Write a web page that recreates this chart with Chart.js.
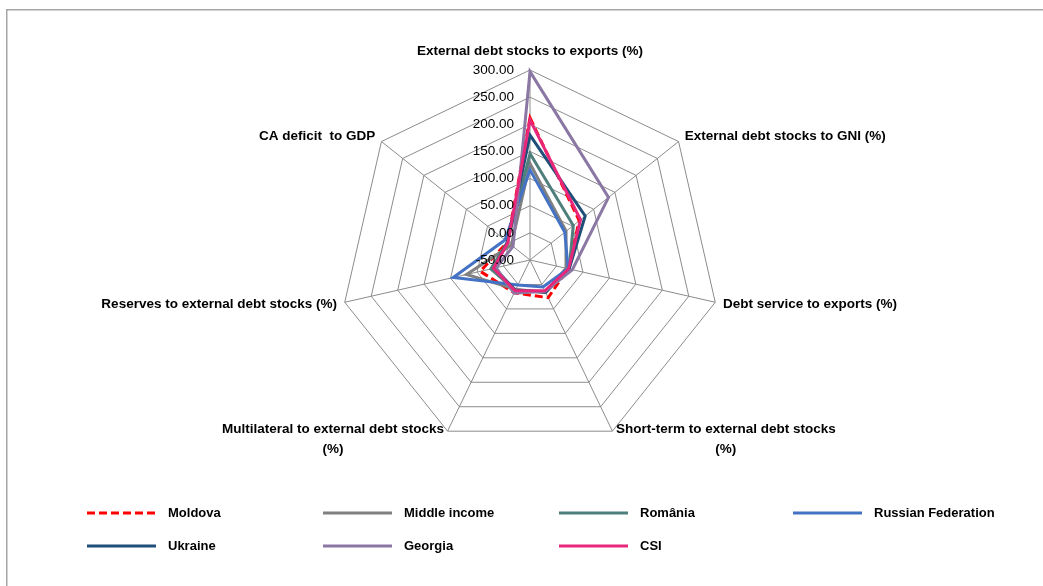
<!DOCTYPE html>
<html>
<head>
<meta charset="utf-8">
<script src="https://cdn.jsdelivr.net/npm/chart.js@4.4.1/dist/chart.umd.min.js"></script>
<style>
  html, body { margin: 0; padding: 0; background: #ffffff; }
  #wrap { width: 1043px; height: 586px; position: relative; }
</style>
</head>
<body>
<div id="wrap"><canvas id="c" width="1043" height="586"></canvas></div>
<script>
// Axes of the radar, clockwise from the top
const categories = [
  'External debt stocks to exports (%)',
  'External debt stocks to GNI (%)',
  'Debt service to exports (%)',
  ['Short-term to external debt stocks', '(%)'],
  ['Multilateral to external debt stocks', '(%)'],
  'Reserves to external debt stocks (%)',
  'CA deficit  to GDP'
];

const tickLabels = ['-50.00', '0.00', '50.00', '100.00', '150.00', '200.00', '250.00', '300.00'];

const seriesNames = ['Moldova', 'Middle income', 'România', 'Russian Federation', 'Ukraine', 'Georgia', 'CSI'];

const moldova      = [212,  66, 22, 27, 17, 44,   3];
const middleIncome = [128,  35, 18, 17, 10, 70,  -6];
const romania      = [146,  52, 24, 15, 12, 24,   3];
const russia       = [116,  32, 22,  5,  1, 95,   9];
const ukraine      = [180,  80, 24, 16, 12, 17,   3];
const georgia      = [297, 135, 30, 14, 18, 14, -10];
const csi          = [208,  69, 23, 13, 13, 19,   2];

const seriesValues = [moldova, middleIncome, romania, russia, ukraine, georgia, csi];
const seriesColors = ['#ff0000', '#808080', '#4f7f7d', '#4472c4', '#1f4e79', '#8b77a3', '#e8277a'];

const LABEL_FONT = 'bold 13.5px "Liberation Sans", Arial, sans-serif';
const TICK_FONT = '13.5px "Liberation Sans", Arial, sans-serif';

const datasets = seriesNames.map((name, i) => ({
  label: name,
  data: seriesValues[i],
  borderColor: seriesColors[i],
  backgroundColor: seriesColors[i],
  borderWidth: 3,
  borderDash: i === 0 ? [8, 4] : [],
  borderJoinStyle: 'miter',
  fill: false,
  pointRadius: 0,
  pointHoverRadius: 0,
  tension: 0,
  order: seriesNames.length - i   // later series are painted on top
}));

// Frame around the whole figure
const framePlugin = {
  id: 'frame',
  beforeDraw(chart) {
    const ctx = chart.ctx;
    ctx.save();
    ctx.fillStyle = '#ffffff';
    ctx.fillRect(0, 0, chart.width, chart.height);
    ctx.strokeStyle = '#a6a6a6';
    ctx.lineWidth = 1.5;
    ctx.strokeRect(6.75, 9.75, 1200, 800);
    ctx.restore();
  }
};

// Value labels along the top spoke and the axis names around the web
const labelsPlugin = {
  id: 'radarLabels',
  afterDatasetsDraw(chart) {
    const s = chart.scales.r;
    const ctx = chart.ctx;
    ctx.save();
    ctx.fillStyle = '#000000';

    ctx.font = TICK_FONT;
    ctx.textAlign = 'right';
    ctx.textBaseline = 'middle';
    tickLabels.forEach(t => {
      const p = s.getPointPositionForValue(0, parseFloat(t));
      ctx.fillText(t, p.x - 16, p.y);
    });

    ctx.font = LABEL_FONT;
    ctx.textAlign = 'left';
    categories.forEach((label, i) => {
      const p = s.getPointPosition(i, s.drawingArea + 8);
      const lines = Array.isArray(label) ? label : [label];
      const widths = lines.map(l => ctx.measureText(l).width);
      const w = Math.max(...widths);
      const dx = p.x - s.xCenter;
      let left;
      if (Math.abs(dx) < 1) left = p.x - w / 2;
      else if (dx > 0) left = p.x;
      else left = p.x - w;
      let y = p.y;
      if (Math.abs(dx) < 1 && p.y < s.yCenter) y = p.y - 11;
      else if (lines.length > 1) y = p.y - 9;
      lines.forEach((l, k) => ctx.fillText(l, left + (w - widths[k]) / 2, y + k * 20));
    });
    ctx.restore();
  }
};

// Legend laid out on a four-column grid below the chart
const legendPlugin = {
  id: 'gridLegend',
  afterDraw(chart) {
    const ctx = chart.ctx;
    const colX = [87, 323, 559, 793];
    const rowY = [513, 546];
    ctx.save();
    ctx.font = 'bold 13px "Liberation Sans", Arial, sans-serif';
    ctx.textAlign = 'left';
    ctx.textBaseline = 'middle';
    chart.data.datasets.forEach((ds, i) => {
      const x = colX[i % 4];
      const y = rowY[Math.floor(i / 4)];
      ctx.strokeStyle = ds.borderColor;
      ctx.lineWidth = 3;
      ctx.setLineDash(ds.borderDash || []);
      ctx.lineCap = 'butt';
      ctx.beginPath();
      ctx.moveTo(x, y);
      ctx.lineTo(x + 69, y);
      ctx.stroke();
      ctx.setLineDash([]);
      ctx.fillStyle = '#000000';
      ctx.fillText(ds.label, x + 81, y + 0.5);
    });
    ctx.restore();
  }
};

const tMin = parseFloat(tickLabels[0]);
const tMax = parseFloat(tickLabels[tickLabels.length - 1]);
const tStep = parseFloat(tickLabels[1]) - tMin;

new Chart(document.getElementById('c'), {
  type: 'radar',
  data: {
    labels: categories,
    datasets: datasets
  },
  options: {
    responsive: false,
    animation: false,
    devicePixelRatio: 1,
    layout: { padding: { left: 340, right: 323, top: 70, bottom: 136 } },
    plugins: {
      legend: { display: false },
      tooltip: { enabled: false }
    },
    scales: {
      r: {
        min: tMin,
        max: tMax,
        ticks: { stepSize: tStep, display: false },
        grid: { color: '#8c8c8c', lineWidth: 1 },
        angleLines: { color: '#8c8c8c', lineWidth: 1 },
        pointLabels: { display: false }
      }
    }
  },
  plugins: [framePlugin, labelsPlugin, legendPlugin]
});
</script>
</body>
</html>
